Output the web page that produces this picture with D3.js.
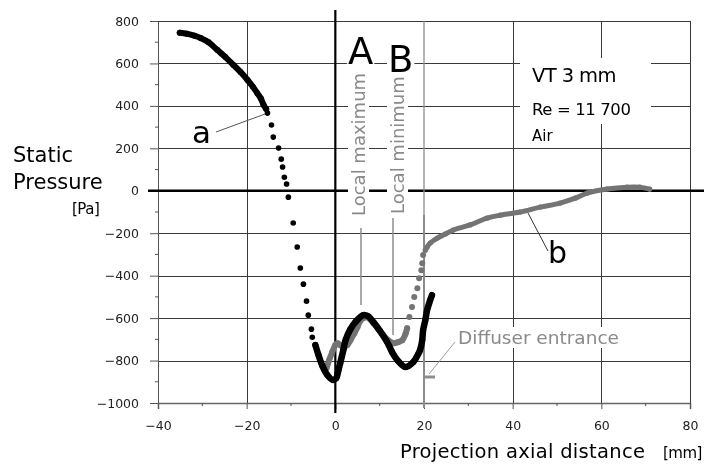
<!DOCTYPE html>
<html><head><meta charset="utf-8">
<script src="https://cdn.jsdelivr.net/npm/d3@7"></script>
<style>
body{margin:0;background:#fff}
#wrap{position:relative;width:704px;height:466px}
#grid{position:absolute;left:0;top:0}
#c{position:absolute;left:0;top:0;display:block}
</style>
</head><body>
<div id="wrap"><canvas id="grid" width="704" height="466"></canvas><svg id="c" width="704" height="466"></svg></div>
<script>
// ---- tick values ----
const xTicks = [-40, -20, 0, 20, 40, 60, 80];
const xMinor = [-30, -10, 10, 30, 50, 70];
const yTicks = [-1000, -800, -600, -400, -200, 0, 200, 400, 600, 800];
const yMinor = [-900, -700, -500, -300, -100, 100, 300, 500, 700];

// ---- series a (black): [axial distance mm, static pressure Pa] ----
const seriesA_dense1 = [[-35.1,745],[-33.5,740],[-31.8,731],[-30.4,720],[-28.6,700],[-26.6,663],[-24.8,630],[-23.0,593],[-21.4,560],[-19.8,522],[-18.6,490],[-17.6,460],[-16.8,435],[-16.2,405],[-15.6,385]];
const seriesA_sparse = [[-15.3,366],[-14.4,310],[-14.0,253],[-12.8,201],[-12.2,149],[-11.9,112],[-11.5,64],[-11.0,32],[-10.6,-30],[-9.5,-152],[-8.6,-265],[-7.9,-364],[-7.2,-440],[-6.5,-520],[-6.1,-586],[-5.4,-652],[-5.2,-690]];
const seriesA_dense2 = [[-4.5,-727],[-3.8,-774],[-2.9,-826],[-1.8,-868],[-0.5,-892],[0.2,-883],[0.7,-845],[1.1,-812],[1.8,-751],[2.3,-704],[3.4,-652],[4.5,-619],[6.3,-586],[7.4,-591],[8.6,-619],[10.1,-661],[11.7,-713],[12.8,-760],[14.0,-798],[15.8,-830],[17.6,-807],[18.7,-769],[19.1,-751],[19.6,-704],[19.8,-657],[20.3,-609],[20.7,-562],[21.4,-515],[21.8,-492]];

// ---- series b (grey) ----
const seriesB_dense1 = [[-2.0,-836],[-1.4,-798],[-0.7,-760],[0.0,-727],[0.5,-718],[1.1,-727],[1.8,-737],[2.7,-727],[3.4,-704],[4.3,-671],[5.0,-642],[5.6,-614],[6.3,-600],[7.2,-596],[8.6,-624],[9.7,-652],[10.8,-680],[11.9,-704],[13.1,-718],[14.2,-713],[15.1,-704],[15.8,-676],[16.2,-648]];
const seriesB_sparse = [[16.7,-595],[17.3,-548],[17.8,-501],[18.5,-459],[18.9,-412],[19.4,-374],[19.6,-341],[19.8,-303]];
const seriesB_dense2 = [[20.3,-280],[20.7,-265],[21.4,-246],[23.0,-223],[24.8,-204],[26.6,-185],[30.4,-161],[34.2,-129],[37.2,-115],[41.7,-100],[46.2,-77],[50.7,-58],[54.1,-35],[56.8,-11],[61.3,8],[65.8,17],[68.7,17],[70.9,8]];

const diffuserX = 20;

const svg = d3.select("#c");
const xS = d3.scaleLinear().domain([-40, 80]).range([158, 690]);
const yS = d3.scaleLinear().domain([-1000, 800]).range([403, 21]);
const W = 690 - 158, H = 403 - 21;

const LBL = "'DejaVu Sans', sans-serif";
const BLACK = "#000", GREY = "#747474", TXTGREY = "#8a8a8a";
const GRIDC = "#3a3a3a";

// ---- grid on a canvas underneath the svg, positioned by the scales ----
const ctx = document.getElementById("grid").getContext("2d");
ctx.strokeStyle = GRIDC; ctx.lineWidth = 1;
ctx.beginPath();
yTicks.forEach(v => { const py = Math.round(yS(v)) + 0.5; ctx.moveTo(xS(-40), py); ctx.lineTo(xS(80), py); });
xTicks.filter(d => d !== 0 && d !== diffuserX).forEach(v => { const px = Math.round(xS(v)) + 0.5; ctx.moveTo(px, yS(800)); ctx.lineTo(px, yS(-1000)); });
ctx.stroke();

const layerAxes = svg.append("g");
const layerBg = svg.append("g");
const layerText = svg.append("g");
const layerData = svg.append("g");

// ---- labelled axes ----
const gy = layerAxes.append("g").attr("transform", `translate(${xS(-40)},0)`)
  .call(d3.axisLeft(yS).tickValues(yTicks).tickSize(8).tickFormat(d3.format("d")));
gy.select(".domain").attr("stroke", "#555");
gy.selectAll(".tick line").attr("stroke", "#555");
gy.selectAll(".tick text").attr("x", -19).attr("font-family", LBL).attr("font-size", 12.5).attr("fill", "#222");
const gx = layerAxes.append("g").attr("transform", `translate(0,${yS(-1000)})`)
  .call(d3.axisBottom(xS).tickValues(xTicks).tickSize(6).tickFormat(d3.format("d")));
gx.select(".domain").attr("stroke", "#666").attr("stroke-width", 1.5);
gx.selectAll(".tick line").attr("stroke", "#555");
gx.selectAll(".tick text").attr("y", 18).attr("font-family", LBL).attr("font-size", 12.5).attr("fill", "#222");
yMinor.forEach(v => layerAxes.append("line")
  .attr("x1", xS(-40) - 3).attr("x2", xS(-40)).attr("y1", yS(v)).attr("y2", yS(v)).attr("stroke", "#555"));
xMinor.forEach(v => layerAxes.append("line")
  .attr("y1", yS(-1000)).attr("y2", yS(-1000) + 3).attr("x1", xS(v)).attr("x2", xS(v)).attr("stroke", "#555"));

// zero lines and diffuser line
layerAxes.append("line").attr("x1", 148).attr("x2", 704).attr("y1", yS(0)).attr("y2", yS(0))
  .attr("stroke", BLACK).attr("stroke-width", 2.5);
layerAxes.append("line").attr("x1", xS(0)).attr("x2", xS(0)).attr("y1", 10).attr("y2", 413)
  .attr("stroke", BLACK).attr("stroke-width", 2.2);
layerAxes.append("line").attr("x1", xS(diffuserX)).attr("x2", xS(diffuserX)).attr("y1", yS(800)).attr("y2", yS(-1000))
  .attr("stroke", "#8c8c8c").attr("stroke-width", 1.3);
layerAxes.append("line").attr("x1", xS(diffuserX)).attr("x2", xS(diffuserX)).attr("y1", 215).attr("y2", 408)
  .attr("stroke", "#8c8c8c").attr("stroke-width", 2);

// ---- text helper (background box goes to its own layer) ----
function label(txt, px, py, opts) {
  const tf = `translate(${px},${py})${opts.rotate ? " rotate(" + opts.rotate + ")" : ""}`;
  const t = layerText.append("text").attr("transform", tf).text(txt)
    .attr("font-family", LBL).attr("font-size", opts.size)
    .attr("fill", opts.fill || "#000");
  if (opts.ls) t.attr("letter-spacing", opts.ls);
  if (opts.bg) {
    const b = t.node().getBBox();
    const p = opts.pad != null ? opts.pad : 2, pt = opts.padTop || 0;
    layerBg.append("rect").attr("transform", tf)
      .attr("x", b.x - p).attr("y", b.y + pt).attr("width", b.width + 2 * p).attr("height", Math.max(0, b.height - pt))
      .attr("fill", "#fff");
  }
  return t;
}

// info box
layerBg.append("rect").attr("x", 520).attr("y", 58).attr("width", 131).attr("height", 66).attr("fill", "#fff");
label("VT 3 mm", 532, 82, {size: 19.5, ls: -0.6});
label("Re = 11 700", 532, 115, {size: 16.5, ls: -0.4});
label("Air", 532, 141, {size: 15});

label("A", 348, 64, {size: 37, bg: true, pad: 1, padTop: 8});
label("B", 388, 72, {size: 37, bg: true, pad: 1, padTop: 8});

label("Local maximum", 365, 216, {size: 18, fill: TXTGREY, rotate: -90, bg: true, pad: 2});
label("Local minimum", 404, 214, {size: 18, fill: TXTGREY, rotate: -90, bg: true, pad: 2});
layerText.append("line").attr("x1", 361).attr("x2", 361).attr("y1", 228).attr("y2", 305).attr("stroke", "#8c8c8c").attr("stroke-width", 1.5);
layerText.append("line").attr("x1", 393).attr("x2", 393).attr("y1", 218).attr("y2", 335).attr("stroke", "#8c8c8c").attr("stroke-width", 1.5);

label("Diffuser entrance", 458, 344, {size: 18.5, fill: TXTGREY, bg: true, pad: 2});
layerText.append("line").attr("x1", 455).attr("y1", 342).attr("x2", 429).attr("y2", 374).attr("stroke", "#999").attr("stroke-width", 1);
layerText.append("line").attr("x1", xS(diffuserX)).attr("x2", xS(diffuserX) + 11).attr("y1", 377).attr("y2", 377).attr("stroke", "#8c8c8c").attr("stroke-width", 3);

label("a", 192, 143, {size: 31});
layerText.append("line").attr("x1", 216).attr("y1", 132).attr("x2", 265).attr("y2", 114).attr("stroke", "#555").attr("stroke-width", 1);
label("b", 548, 263, {size: 30});
layerText.append("line").attr("x1", 528).attr("y1", 213).attr("x2", 548).attr("y2", 251).attr("stroke", "#333").attr("stroke-width", 1);

label("Static", 13, 162, {size: 21});
label("Pressure", 13, 189, {size: 21});
label("[Pa]", 72, 214, {size: 15, ls: -0.5});
label("Projection axial distance", 400, 458, {size: 19.5, ls: 0.3});
label("[mm]", 663, 458, {size: 15, ls: -0.5});

// ---- data ----
const lineGen = d3.line().x(d => xS(d[0])).y(d => yS(d[1])).curve(d3.curveCatmullRom);
function dense(arr, color, w) {
  layerData.append("path").datum(arr).attr("d", lineGen).attr("fill", "none")
    .attr("stroke", color).attr("stroke-width", w).attr("stroke-linecap", "round").attr("stroke-linejoin", "round");
}
function dots(arr, color, r) {
  const g = layerData.append("g");
  arr.forEach(d => g.append("circle").attr("cx", xS(d[0])).attr("cy", yS(d[1])).attr("r", r).attr("fill", color));
}
dense(seriesB_dense1, GREY, 6);
dots(seriesB_dense1, GREY, 3);
dots(seriesB_sparse, GREY, 3);
dense(seriesB_dense2, GREY, 5);
dots(seriesB_dense2, GREY, 2.6);

dense(seriesA_dense1, BLACK, 6);
dots(seriesA_dense1, BLACK, 3);
dots(seriesA_sparse, BLACK, 2.8);
dense(seriesA_dense2, BLACK, 6.5);
dots(seriesA_dense2, BLACK, 3);
</script>
</body></html>
